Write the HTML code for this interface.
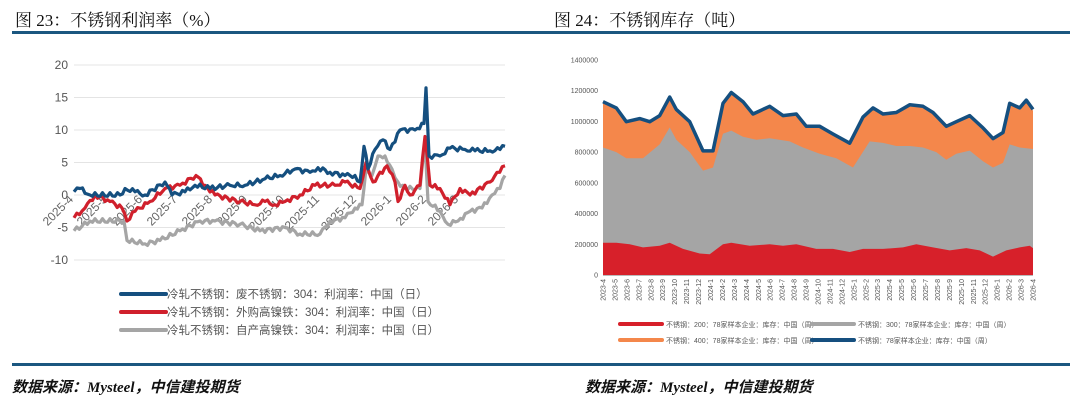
<!DOCTYPE html>
<html><head><meta charset="utf-8">
<style>
html,body{margin:0;padding:0;background:#fff;}
body{width:1080px;height:402px;position:relative;overflow:hidden;font-family:"Liberation Sans","Noto Sans CJK SC",sans-serif;}
.t{position:absolute;top:6px;font-size:17px;color:#111;font-family:"Liberation Serif","Noto Serif CJK SC",serif;font-weight:normal;}
.rule{position:absolute;left:12px;width:1058px;height:3px;background:#1b5780;}
.src{position:absolute;top:376px;font-size:15px;font-style:italic;font-weight:bold;color:#111;font-family:"Liberation Serif","Noto Sans CJK SC",serif;}
svg{position:absolute;left:0;top:0;}
</style></head><body>
<div class="t" style="left:15px">图 23：不锈钢利润率（%）</div>
<div class="t" style="left:554px">图 24：不锈钢库存（吨）</div>
<div class="rule" style="top:31px"></div>
<div class="rule" style="top:363px"></div>
<div class="src" style="left:12px">数据来源：Mysteel，中信建投期货</div>
<div class="src" style="left:585px">数据来源：Mysteel，中信建投期货</div>
<svg id="s" width="1080" height="402" xmlns="http://www.w3.org/2000/svg"></svg>
<script>
var s=document.getElementById('s'),h='';
var Y=function(v){return 195-v*6.5};
[20,15,10,5,0,-5,-10].forEach(function(v){h+='<line x1="74" x2="505" y1="'+Y(v)+'" y2="'+Y(v)+'" stroke="#e4e4e4" stroke-width="1"/>';
h+='<text x="68" y="'+(Y(v)+4)+'" font-size="12" fill="#555" text-anchor="end">'+v+'</text>';});
var lx=[['2025-4',74],['2025-5',108],['2025-6',143],['2025-7',178],['2025-8',213],['2025-9',248],['2025-10',285],['2025-11',320],['2025-12',357],['2026-1',392],['2026-2',427],['2026-3',459]];
lx.forEach(function(a){h+='<text transform="translate('+a[1]+',200) rotate(-45)" font-size="12" fill="#666" text-anchor="end">'+a[0]+'</text>';});
function jag(pts){var out=[];for(var i=0;i<pts.length-1;i++){var a=pts[i],b=pts[i+1];var n=Math.max(1,Math.round((b[0]-a[0])/2.5));for(var k=0;k<n;k++){var t=k/n;var v=a[1]+(b[1]-a[1])*t;if(k>0)v+=(Math.sin(a[0]*7.3+k*2.1)*0.35);out.push([a[0]+(b[0]-a[0])*t,v]);}}out.push(pts[pts.length-1]);return out;}
function pl(pts,c){pts=jag(pts);var d=pts.map(function(p,i){return (i?'L':'M')+p[0].toFixed(1)+','+Y(p[1]).toFixed(1)}).join('');h+='<path d="'+d+'" fill="none" stroke="'+c+'" stroke-width="3.2" stroke-linejoin="round"/>';}
pl([[74,-5.5],[90,-4],[120,-4],[124,-4],[127,-7],[145,-7.5],[160,-7],[180,-5.5],[200,-4],[215,-4],[240,-4.5],[260,-5.5],[285,-5],[300,-6],[320,-6],[330,-4],[345,-3.5],[355,-2],[362,-1.5],[366,4],[372,3],[378,6],[385,6],[392,4],[398,2],[405,1],[420,1],[425,8],[428,-1],[440,-2.5],[448,-4.5],[458,-4],[470,-2.5],[482,-2],[492,0],[500,1],[505,3]],'#a5a5a5');
pl([[74,-3.5],[85,-2],[95,0],[110,-1],[122,-2],[127,-4],[135,-2.5],[150,-1],[165,1],[180,1.5],[196,3],[205,1.5],[215,0],[240,-1],[255,-1.5],[265,-1],[275,-1.5],[285,-1],[300,0],[315,1.5],[335,1.5],[345,2],[360,1],[366,5],[373,2],[387,4.5],[395,2],[398,-1],[405,1.5],[410,0],[420,1.5],[425,9],[430,1.5],[440,1],[450,-1.5],[460,1],[470,0],[490,2],[497,3.5],[505,4.5]],'#d0202c');
pl([[74,0.5],[80,1],[90,0],[120,0],[125,1],[135,0.5],[145,0],[165,2],[172,0],[185,0.5],[195,1.5],[210,1],[230,1.5],[245,1.5],[265,2.5],[280,3],[295,4],[310,3.5],[318,4.2],[330,3.5],[345,3],[355,3],[360,2],[364,7.5],[368,4],[375,7],[383,8.5],[390,7],[400,10],[415,10],[424,11],[426,16.5],[429,6],[440,6],[450,7.2],[465,7],[475,6.8],[490,6.8],[500,7],[505,7.5]],'#154f7f');
[['#154f7f','冷轧不锈钢：废不锈钢：304：利润率：中国（日）',294],['#d0202c','冷轧不锈钢：外购高镍铁：304：利润率：中国（日）',312],['#a5a5a5','冷轧不锈钢：自产高镍铁：304：利润率：中国（日）',330]].forEach(function(a){
h+='<line x1="121" x2="166" y1="'+a[2]+'" y2="'+a[2]+'" stroke="'+a[0]+'" stroke-width="4" stroke-linecap="round"/><text x="167" y="'+(a[2]+4)+'" font-size="11.5" fill="#555">'+a[1]+'</text>';});
var X=function(z){return 603+(z-160)*(430/1290)};var Y2=function(v){return 275-v*0.1536};
for(var v=0;v<=1400;v+=200){h+='<text x="598" y="'+(Y2(v)+2.5)+'" font-size="7" fill="#555" text-anchor="end">'+(v*1000)+'</text>';}
var tot=[[160,1120],[200,1080],[230,990],[270,1010],[300,990],[330,1030],[360,1150],[380,1070],[420,990],[460,800],[490,800],[520,1110],[545,1180],[580,1120],[610,1040],[660,1090],[700,1030],[740,1040],[770,960],[810,960],[850,910],[900,850],[940,1020],[970,1080],[1000,1040],[1040,1050],[1080,1100],[1120,1090],[1150,1050],[1190,960],[1220,990],[1260,1030],[1300,950],[1330,880],[1360,920],[1380,1110],[1410,1080],[1430,1130],[1450,1070]];
var gr=[[160,830],[200,800],[230,760],[280,760],[330,850],[360,960],[380,880],[420,800],[460,680],[490,700],[520,920],[545,940],[580,900],[620,880],[660,890],[720,870],[760,830],[810,790],[860,760],[910,700],[960,870],[1000,860],[1040,840],[1080,840],[1120,830],[1160,800],[1190,750],[1220,790],[1260,810],[1300,740],[1330,700],[1360,730],[1380,850],[1410,830],[1450,820]];
var rd=[[160,210],[200,210],[240,200],[280,180],[330,190],[360,210],[400,170],[450,140],[480,135],[520,200],[545,210],[600,190],[660,200],[700,190],[740,200],[800,170],[850,170],[900,150],[940,170],[1000,170],[1060,180],[1100,200],[1150,180],[1200,160],[1250,175],[1290,160],[1330,120],[1370,160],[1410,180],[1440,190],[1450,175]];
function area(p,c){var d='M'+X(160)+','+Y2(0)+p.map(function(q){return 'L'+X(q[0]).toFixed(1)+','+Y2(q[1]).toFixed(1)}).join('')+'L'+X(1450)+','+Y2(0)+'Z';h+='<path d="'+d+'" fill="'+c+'"/>';}
area(tot,'#f4874b');area(gr,'#a5a5a5');area(rd,'#d7202a');
h+='<path d="'+tot.map(function(q,i){return (i?'L':'M')+X(q[0]).toFixed(1)+','+Y2(q[1]+8).toFixed(1)}).join('')+'" fill="none" stroke="#154f7f" stroke-width="3.5" stroke-linejoin="round"/>';
h+='<line x1="603" x2="1033" y1="275.5" y2="275.5" stroke="#bbb"/>';
var n=0;for(var yy=2023,mm=4;yy<2026||(yy==2026&&mm<=4);){var x=603+n*(430/36);h+='<text transform="translate('+(x+2.5)+',279) rotate(-90)" font-size="7" fill="#555" text-anchor="end">'+yy+'-'+mm+'</text>';n++;mm++;if(mm>12){mm=1;yy++;}}
[['#d7202a','不锈钢：200：78家样本企业：库存：中国（周）',620,324],['#a5a5a5','不锈钢：300：78家样本企业：库存：中国（周）',812,324],['#f4874b','不锈钢：400：78家样本企业：库存：中国（周）',620,340],['#154f7f','不锈钢：78家样本企业：库存：中国（周）',812,340]].forEach(function(a){
h+='<line x1="'+a[2]+'" x2="'+(a[2]+42)+'" y1="'+a[3]+'" y2="'+a[3]+'" stroke="'+a[0]+'" stroke-width="4" stroke-linecap="round"/><text x="'+(a[2]+46)+'" y="'+(a[3]+3)+'" font-size="7" fill="#555">'+a[1]+'</text>';});
s.innerHTML=h;
</script>
</body></html>
